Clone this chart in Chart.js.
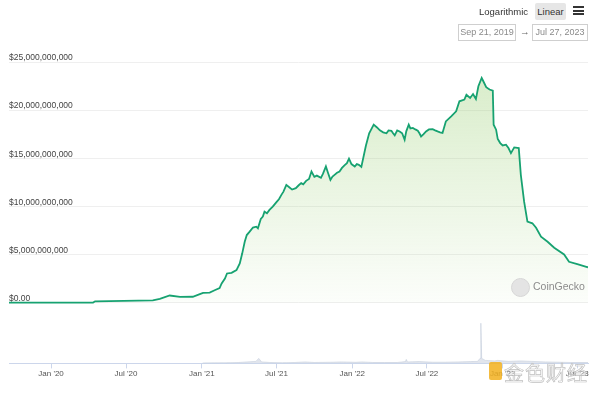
<!DOCTYPE html>
<html>
<head>
<meta charset="utf-8">
<script src="https://cdn.jsdelivr.net/npm/chart.js@4/dist/chart.umd.min.js"></script>
<style>
  html, body { margin: 0; padding: 0; background: #fff; }
  #wrap { position: relative; width: 600px; height: 393px; font-family: "Liberation Sans", Arial, sans-serif; }
  #chart { position: absolute; left: 0; top: 0; }
  .hdr { position: absolute; font-size: 9.5px; color: #333; line-height: 17px; white-space: nowrap; }
  .btn { background: #e6e6e6; border-radius: 2px; text-align: center; }
  .bar { position: absolute; left: 573px; width: 11px; height: 2px; background: #333; }
  .date { position: absolute; top: 24px; height: 15px; border: 1px solid #cfcfcf; font-size: 9px; color: #8a8a8a; line-height: 15px; text-align: center; white-space: nowrap; overflow: hidden; }
  #gecko { position: absolute; left: 511px; top: 278px; width: 17px; height: 17px; border-radius: 50%; background: #e4e4e4; border: 1px solid #d6d6d6; }
  #geckoTxt { position: absolute; left: 533px; top: 280px; font-size: 10.5px; color: #8c8c8c; }
  #jslogo { position: absolute; left: 489px; top: 362px; width: 13px; height: 18px; background: #f2b01e; border-radius: 2px; opacity: 0.85; }
  #jstxt { position: absolute; left: 504px; top: 358px; font-family: "Noto Sans CJK SC", sans-serif; font-size: 20px; color: rgba(255,255,255,0.55); -webkit-text-stroke: 0.7px #c0c0c0; letter-spacing: 1px; }
</style>
</head>
<body>
<div id="wrap">
  <canvas id="chart" width="600" height="393"></canvas>
  <div class="hdr" style="left:479px;top:3px;">Logarithmic</div>
  <div class="hdr btn" style="left:535px;top:3px;width:31px;height:17px;">Linear</div>
  <div class="bar" style="top:6px;"></div>
  <div class="bar" style="top:9.5px;"></div>
  <div class="bar" style="top:13px;"></div>
  <div class="date" style="left:458px;width:56px;">Sep 21, 2019</div>
  <div class="hdr" style="left:520px;top:23px;color:#666;">&rarr;</div>
  <div class="date" style="left:532px;width:54px;">Jul 27, 2023</div>
  <div id="gecko"></div>
  <div id="geckoTxt">CoinGecko</div>
  <div id="jslogo"></div>
  <div id="jstxt">金色财经</div>
</div>
<script>
// market cap, billions USD
const CAP_DATES = [
  '2019-09-21','2020-04-12','2020-04-17','2020-09-04','2020-09-21','2020-10-15','2020-11-09','2020-12-10','2020-12-27',
  '2021-01-04','2021-01-20','2021-02-01','2021-02-13','2021-02-18','2021-02-26','2021-03-03','2021-03-14','2021-03-26',
  '2021-04-03','2021-04-09','2021-04-15','2021-04-20','2021-04-27','2021-05-05','2021-05-13','2021-05-17','2021-05-24',
  '2021-05-29','2021-06-02','2021-06-08','2021-06-14','2021-06-22','2021-07-02','2021-07-07','2021-07-13','2021-07-18',
  '2021-07-25','2021-08-01','2021-08-08','2021-08-17','2021-08-24','2021-08-30','2021-09-04','2021-09-11','2021-09-18',
  '2021-09-24','2021-10-01','2021-10-07','2021-10-17','2021-10-22','2021-10-29','2021-11-03','2021-11-09','2021-11-14',
  '2021-11-19','2021-11-25','2021-12-01','2021-12-07','2021-12-13','2021-12-19','2021-12-24','2021-12-30','2022-01-07',
  '2022-01-12','2022-01-17','2022-01-23','2022-02-03','2022-02-11','2022-02-16','2022-02-22','2022-03-02','2022-03-09',
  '2022-03-17','2022-03-25','2022-03-30','2022-04-06','2022-04-10','2022-04-14','2022-04-20','2022-04-26','2022-05-02',
  '2022-05-08','2022-05-12','2022-05-18','2022-05-22','2022-05-28','2022-06-03','2022-06-09','2022-06-13','2022-06-17',
  '2022-06-23','2022-06-29','2022-07-06','2022-07-15','2022-07-21','2022-07-27','2022-08-02','2022-08-08','2022-08-16',
  '2022-08-29','2022-09-10','2022-09-18','2022-09-30','2022-10-05','2022-10-14','2022-10-21','2022-10-28','2022-11-03',
  '2022-11-11','2022-11-15','2022-11-22','2022-11-30','2022-12-08','2022-12-10','2022-12-16','2022-12-20','2022-12-26',
  '2023-01-01','2023-01-09','2023-01-15','2023-01-21','2023-01-29','2023-02-09','2023-02-14','2023-02-22','2023-03-02',
  '2023-03-14','2023-03-23','2023-04-04','2023-04-20','2023-05-06','2023-05-30','2023-06-11','2023-07-01','2023-07-23',
  '2023-07-27'
];
const CAP_VALUES = [
  0.02,0.02,0.15,0.25,0.40,0.75,0.60,0.62,0.89,
  1.02,1.06,1.30,1.53,2.00,2.52,3.04,3.10,3.39,
  4.08,5.13,6.33,7.03,7.38,7.81,7.90,7.73,8.70,
  8.94,9.46,9.29,9.64,9.98,10.50,10.75,11.20,11.54,
  12.24,12.00,11.75,11.90,12.20,12.42,12.30,12.66,12.85,
  13.63,13.07,13.20,12.97,13.40,14.15,13.50,12.76,13.10,
  13.28,13.50,13.63,14.00,14.27,14.50,14.97,14.40,14.15,
  14.40,14.32,14.11,16.30,17.60,18.00,18.50,18.20,17.90,
  17.70,17.60,17.90,17.86,17.60,17.38,17.90,17.79,17.60,
  16.93,17.80,18.49,18.10,18.15,18.00,17.86,17.60,17.27,
  17.50,17.79,18.00,18.02,17.90,17.79,17.70,17.63,18.83,
  19.35,19.88,20.92,21.10,21.60,21.27,21.67,21.15,22.48,
  23.35,23.00,22.38,22.14,22.03,18.49,17.97,17.00,16.58,
  16.33,16.41,16.06,15.54,16.13,16.06,13.28,10.50,8.42,
  8.25,7.79,6.85,6.33,5.71,5.02,4.25,4.01,3.73,
  3.68
];

// 24h volume, billions USD
const VOL_DATES = [
  '2021-01-03','2021-02-01','2021-03-01','2021-04-01','2021-04-20','2021-05-12','2021-05-19','2021-05-26','2021-06-15',
  '2021-07-15','2021-08-15','2021-09-08','2021-10-01','2021-11-15','2021-12-05','2022-01-10','2022-01-24','2022-02-20',
  '2022-03-20','2022-04-20','2022-05-10','2022-05-12','2022-05-15','2022-06-13','2022-07-15','2022-08-15','2022-09-15',
  '2022-10-15','2022-11-01','2022-11-07','2022-11-09','2022-11-11','2022-11-20','2022-12-13','2022-12-20','2023-01-15',
  '2023-02-14','2023-03-12','2023-04-15','2023-05-15','2023-06-15','2023-07-27'
];
const VOL_VALUES = [
  0.5,0.6,0.7,0.9,1.5,2.0,5.0,1.5,0.9,
  0.7,0.9,1.5,0.9,1.2,1.5,1.1,1.5,0.9,
  0.9,0.9,1.8,4.0,1.5,1.8,1.2,1.2,1.5,
  1.8,2.0,5.0,40.0,5.0,3.0,2.5,3.0,2.0,
  2.5,2.0,1.5,1.2,0.9,0.9
];

const Y_TICKS = [0, 5, 10, 15, 20, 25];
const X_TICKS = ['2020-01-01','2020-07-01','2021-01-01','2021-07-01','2022-01-01','2022-07-01','2023-01-01','2023-07-01'];
const X_START = '2019-09-21';
const X_END = '2023-07-27';

const ts = s => Date.parse(s + 'T00:00:00Z');
const MONTHS = ['Jan','Feb','Mar','Apr','May','Jun','Jul','Aug','Sep','Oct','Nov','Dec'];

const capPoints = CAP_DATES.map((d, i) => ({ x: ts(d), y: CAP_VALUES[i] }));
const volPoints = VOL_DATES.map((d, i) => ({ x: ts(d), y: VOL_VALUES[i] }));

const ctx = document.getElementById('chart').getContext('2d');
new Chart(ctx, {
  type: 'line',
  data: {
    datasets: [{
      data: capPoints,
      yAxisID: 'y',
      borderColor: '#17a271',
      borderWidth: 1.8,
      pointRadius: 0,
      tension: 0,
      fill: 'origin',
      backgroundColor: (c) => {
        const area = c.chart.chartArea;
        if (!area) return 'rgba(150,205,110,0.2)';
        const ys = c.chart.scales.y;
        const g = c.chart.ctx.createLinearGradient(0, ys.getPixelForValue(25), 0, ys.getPixelForValue(0));
        g.addColorStop(0, 'rgba(150,205,110,0.38)');
        g.addColorStop(1, 'rgba(150,205,110,0.03)');
        return g;
      },
      order: 1
    }, {
      data: volPoints,
      yAxisID: 'y2',
      borderColor: 'rgba(185,195,212,0.8)',
      borderWidth: 0.6,
      backgroundColor: 'rgba(205,212,225,0.6)',
      pointRadius: 0,
      tension: 0,
      fill: 'origin',
      order: 2
    }]
  },
  options: {
    responsive: false,
    animation: false,
    events: [],
    layout: { padding: { left: 9, right: 12, top: 62, bottom: 13 } },
    plugins: { legend: { display: false }, tooltip: { enabled: false } },
    scales: {
      x: {
        type: 'linear',
        min: ts(X_START),
        max: ts(X_END),
        afterBuildTicks: (s) => { s.ticks = X_TICKS.map(d => ({ value: ts(d) })); },
        ticks: {
          autoSkip: false,
          maxRotation: 0,
          padding: 1,
          color: '#555',
          font: { family: 'Liberation Sans', size: 8 },
          callback: (v) => {
            const d = new Date(v);
            return MONTHS[d.getUTCMonth()] + " '" + String(d.getUTCFullYear()).slice(2);
          }
        },
        grid: { drawOnChartArea: false, drawTicks: true, tickLength: 5, color: '#ccd6eb' },
        border: { display: true, color: '#ccd6eb' }
      },
      y: {
        position: 'left',
        min: -6.3,
        max: 25,
        afterBuildTicks: (s) => { s.ticks = Y_TICKS.map(v => ({ value: v })); },
        ticks: {
          mirror: true,
          padding: 0,
          labelOffset: -4,
          color: '#444',
          font: { family: 'Liberation Sans', size: 8.5 },
          callback: (v) => v === 0 ? '$0.00' : '$' + (v * 1e9).toLocaleString('en-US')
        },
        grid: { color: '#efefef', drawTicks: false },
        border: { display: false }
      },
      y2: {
        display: false,
        min: 0,
        max: 300
      }
    }
  }
});
</script>
</body>
</html>
